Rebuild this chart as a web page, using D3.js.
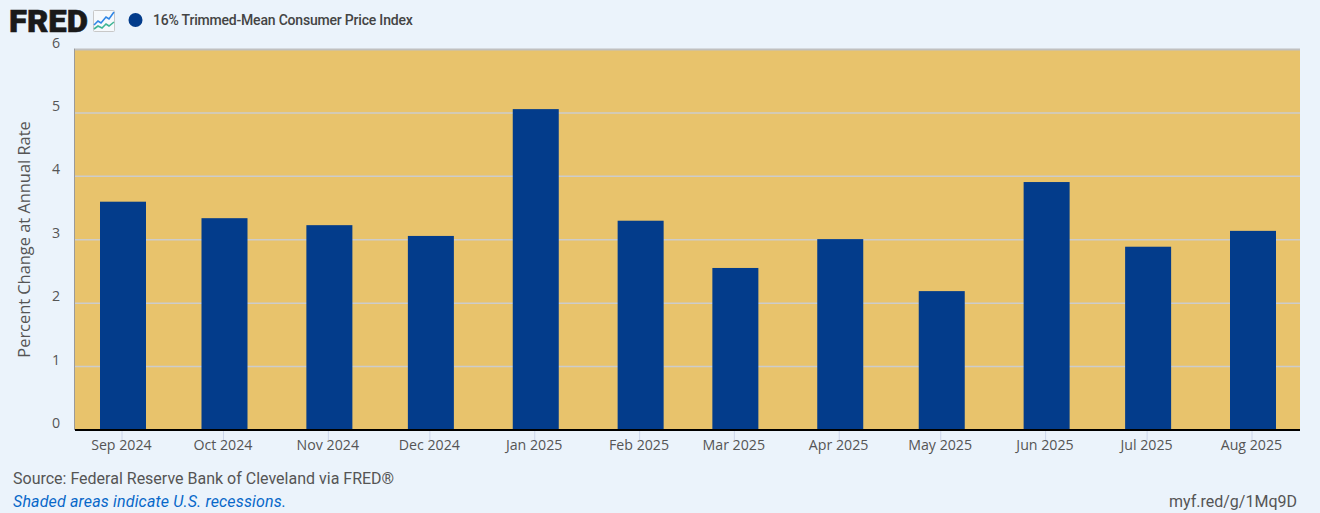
<!DOCTYPE html>
<html><head><meta charset="utf-8">
<script src="https://cdnjs.cloudflare.com/ajax/libs/d3/7.8.5/d3.min.js"></script>
<style>html,body{margin:0;padding:0;background:#ebf3fb;overflow:hidden}svg{display:block}</style>
</head><body><svg id="c" width="1320" height="513"></svg>
<script>
const months=["2024-09-01","2024-10-01","2024-11-01","2024-12-01","2025-01-01","2025-02-01","2025-03-01","2025-04-01","2025-05-01","2025-06-01","2025-07-01","2025-08-01"];
const values=[3.6,3.34,3.23,3.06,5.06,3.30,2.555,3.01,2.19,3.91,2.89,3.14];
const yTicks=[0,1,2,3,4,5,6];
const seriesName="16% Trimmed-Mean Consumer Price Index";
const yTitle="Percent Change at Annual Rate";
const source="Source: Federal Reserve Bank of Cleveland via FRED®";
const note="Shaded areas indicate U.S. recessions.";
const link="myf.red/g/1Mq9D";

const parse=d3.utcParse("%Y-%m-%d"), dates=months.map(parse);
const svg=d3.select("#c");
const L=75,R=1300,T=49.5,B=430,barW=46;
const dayPx=1130/334, t0=dates[0].getTime(), dayMs=864e5;
const x=d3.scaleUtc().domain([new Date(t0-(123-L)/dayPx*dayMs),new Date(t0+(R-123)/dayPx*dayMs)]).range([L,R]);
const y=d3.scaleLinear().domain([0,6]).range([B,T]);
const sans="Roboto, sans-serif", axisFont="'Open Sans', sans-serif";

svg.append("rect").attr("x",L).attr("y",T).attr("width",R-L).attr("height",B-T).attr("fill","#e8c36c");
svg.append("g").selectAll("line").data(yTicks.filter(d=>d>0)).join("line")
 .attr("x1",L).attr("x2",R).attr("y1",d=>y(d)).attr("y2",d=>y(d))
 .attr("stroke",d=>d===6?"#c0c0c0":"#cccccc").attr("stroke-width",d=>d===6?2:1.5);
svg.append("line").attr("x1",L-.5).attr("x2",L-.5).attr("y1",T-1).attr("y2",B).attr("stroke","#9a9a9a").attr("stroke-width",1);
svg.append("g").selectAll("rect").data(dates).join("rect")
 .attr("x",d=>x(d)-barW/2).attr("width",barW)
 .attr("y",(d,i)=>y(values[i])).attr("height",(d,i)=>B-y(values[i]))
 .attr("fill","#033c8b");
svg.append("line").attr("x1",L).attr("x2",R).attr("y1",B).attr("y2",B).attr("stroke","#000").attr("stroke-width",2);

const xAxis=d3.axisBottom(x).tickValues(dates).tickFormat(d3.utcFormat("%b %Y")).tickSizeOuter(0).tickSizeInner(9);
const gx=svg.append("g").attr("transform",`translate(-1.5,${B+1})`).call(xAxis);
gx.select(".domain").remove();
gx.selectAll("line").attr("stroke","#ccd6eb");
gx.selectAll("text").attr("x",-0.6).attr("y",9).attr("dy","0.71em").attr("fill","#555").style("font",`14.2px ${axisFont}`);

svg.append("g").selectAll("text").data(yTicks).join("text")
 .attr("x",60).attr("y",d=>y(d)-2).attr("text-anchor","end")
 .attr("fill","#555").style("font",`14.2px ${axisFont}`).text(d=>d);
svg.append("text").attr("transform","translate(30,239.5) rotate(-90)").attr("text-anchor","middle")
 .attr("fill","#555").style("font",`16.4px ${axisFont}`).text(yTitle);

svg.append("text").attr("x",9).attr("y",32).attr("fill","#1a1a1a").attr("stroke","#1a1a1a").attr("stroke-width",0.6)
 .style("font",`900 31px ${sans}`).attr("textLength",79).attr("lengthAdjust","spacingAndGlyphs").text("FRED");
const icon=svg.append("g").attr("transform","translate(93,10)");
icon.append("rect").attr("x",.5).attr("y",.5).attr("width",21).attr("height",21).attr("rx",1).attr("fill","#f6f9fc").attr("stroke","#c8c8c8");
icon.append("path").attr("d","M1 15 L5 11 L8 13 L13 7 L16 9 L21 2").attr("fill","none").attr("stroke","#2f86e6").attr("stroke-width",1.6);
icon.append("path").attr("d","M1 19 L5 16 L9 18 L13 14 L16 16 L21 12").attr("fill","none").attr("stroke","#3fb596").attr("stroke-width",1.6);

svg.append("circle").attr("cx",135.5).attr("cy",20).attr("r",7).attr("fill","#033c8b");
svg.append("text").attr("x",153).attr("y",25).attr("fill","#444").style("font",`500 14px ${sans}`).style("letter-spacing","-0.2px").text(seriesName);

svg.append("text").attr("x",13).attr("y",484).attr("fill","#555").style("font",`16px ${sans}`).text(source);
svg.append("text").attr("x",13).attr("y",507).attr("fill","#0868c9").style("font",`italic 16px ${sans}`).style("letter-spacing","0.16px").text(note);
svg.append("text").attr("x",1297).attr("y",507).attr("text-anchor","end").attr("fill","#555").style("font",`16px ${sans}`).text(link);
</script></body></html>
